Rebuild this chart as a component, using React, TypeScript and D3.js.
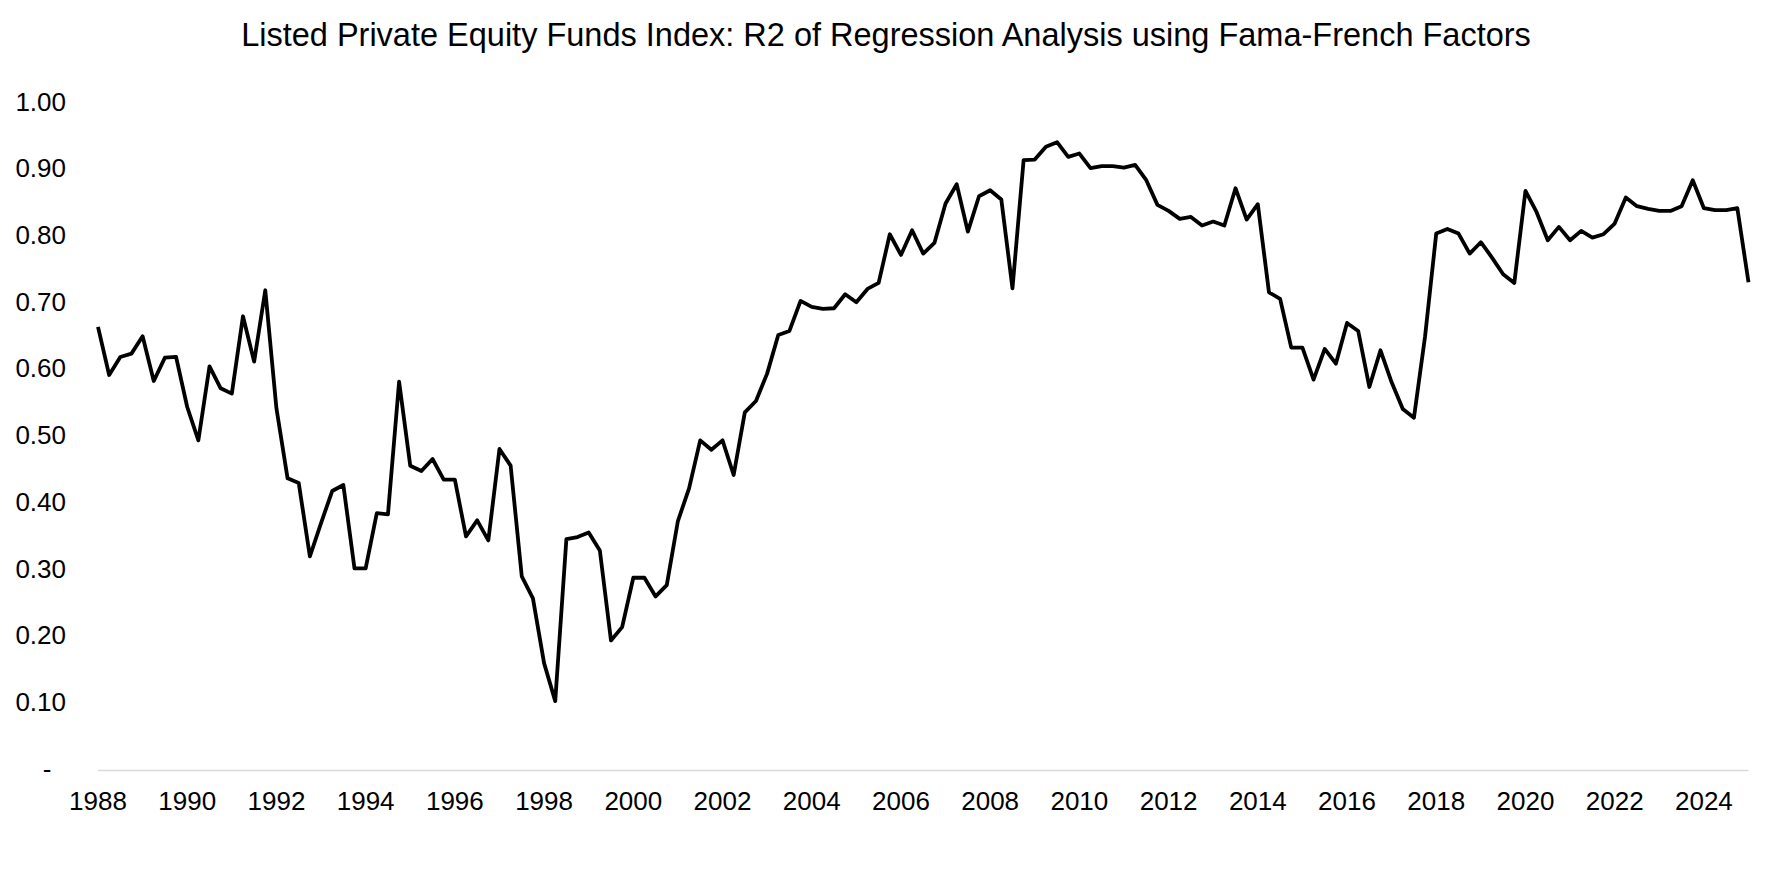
import React from "react";
import * as d3 from "d3";

const title = "Listed Private Equity Funds Index: R2 of Regression Analysis using Fama-French Factors";

// Quarterly observations starting 1988 Q1
const startYear = 1988;
const r2Values: number[] = [
  0.665, 0.593, 0.620, 0.625, 0.651, 0.584, 0.619, 0.620, 0.545, 0.495,
  0.606, 0.573, 0.565, 0.681, 0.613, 0.720, 0.543, 0.438, 0.431, 0.321,
  0.371, 0.419, 0.428, 0.303, 0.303, 0.386, 0.384, 0.583, 0.457, 0.449,
  0.467, 0.436, 0.436, 0.351, 0.375, 0.345, 0.482, 0.457, 0.291, 0.258,
  0.161, 0.104, 0.347, 0.350, 0.357, 0.330, 0.195, 0.215, 0.289, 0.289,
  0.261, 0.278, 0.374, 0.423, 0.495, 0.481, 0.495, 0.443, 0.537, 0.554,
  0.595, 0.653, 0.659, 0.704, 0.695, 0.692, 0.693, 0.714, 0.702, 0.722,
  0.731, 0.804, 0.773, 0.810, 0.775, 0.791, 0.850, 0.879, 0.808, 0.861,
  0.870, 0.856, 0.723, 0.915, 0.916, 0.935, 0.942, 0.920, 0.925, 0.903,
  0.906, 0.906, 0.904, 0.908, 0.885, 0.848, 0.839, 0.827, 0.830, 0.817,
  0.823, 0.817, 0.873, 0.826, 0.849, 0.717, 0.707, 0.634, 0.634, 0.586,
  0.632, 0.610, 0.671, 0.659, 0.575, 0.630, 0.582, 0.542, 0.529, 0.651,
  0.805, 0.812, 0.805, 0.775, 0.792, 0.769, 0.744, 0.731, 0.869, 0.837,
  0.795, 0.815, 0.795, 0.809, 0.799, 0.804, 0.820, 0.859, 0.846, 0.842,
  0.839, 0.839, 0.846, 0.885, 0.843, 0.840, 0.840, 0.843, 0.732,
];

const yTicks: number[] = [0, 0.1, 0.2, 0.3, 0.4, 0.5, 0.6, 0.7, 0.8, 0.9, 1.0];
const xTickYears: number[] = [
  1988, 1990, 1992, 1994, 1996, 1998, 2000, 2002, 2004, 2006,
  2008, 2010, 2012, 2014, 2016, 2018, 2020, 2022, 2024,
];

const W = 1772;
const H = 886;
const FONT = "'Liberation Sans', Arial, Helvetica, sans-serif";

export default function App() {
  const data = r2Values.map((v, i) => ({ t: startYear + i / 4, v }));
  const lastT = startYear + (r2Values.length - 1) / 4;

  const x = d3.scaleLinear().domain([startYear, lastT]).range([98, 1748.5]);
  const y = d3.scaleLinear().domain([0, 1]).range([770.5, 103.5]);

  const line = d3
    .line<{ t: number; v: number }>()
    .x((d) => x(d.t))
    .y((d) => y(d.v));

  const fmt = (v: number) => (v === 0 ? "-" : d3.format(".2f")(v));

  return (
    <svg
      width={W}
      height={H}
      viewBox={`0 0 ${W} ${H}`}
      style={{ position: "absolute", left: 0, top: 0, background: "#fff" }}
    >
      <rect x={0} y={0} width={W} height={H} fill="#fff" />
      <text
        x={886}
        y={45.5}
        textAnchor="middle"
        fontFamily={FONT}
        fontSize={32.5}
        fill="#000"
      >
        {title}
      </text>

      {yTicks.map((t) => (
        <text
          key={t}
          x={t === 0 ? 47 : 66}
          y={y(t) - 2}
          dy="0.35em"
          textAnchor={t === 0 ? "middle" : "end"}
          fontFamily={FONT}
          fontSize={26}
          fill="#000"
        >
          {fmt(t)}
        </text>
      ))}

      <line
        x1={x(startYear)}
        x2={x(lastT)}
        y1={y(0)}
        y2={y(0)}
        stroke="#d9d9d9"
        strokeWidth={1.5}
      />

      {xTickYears.map((yr) => (
        <text
          key={yr}
          x={x(yr)}
          y={810}
          textAnchor="middle"
          fontFamily={FONT}
          fontSize={26}
          fill="#000"
        >
          {yr}
        </text>
      ))}

      <path
        d={line(data) || ""}
        fill="none"
        stroke="#000"
        strokeWidth={3.8}
        strokeLinejoin="round"
        strokeLinecap="butt"
      />
    </svg>
  );
}
